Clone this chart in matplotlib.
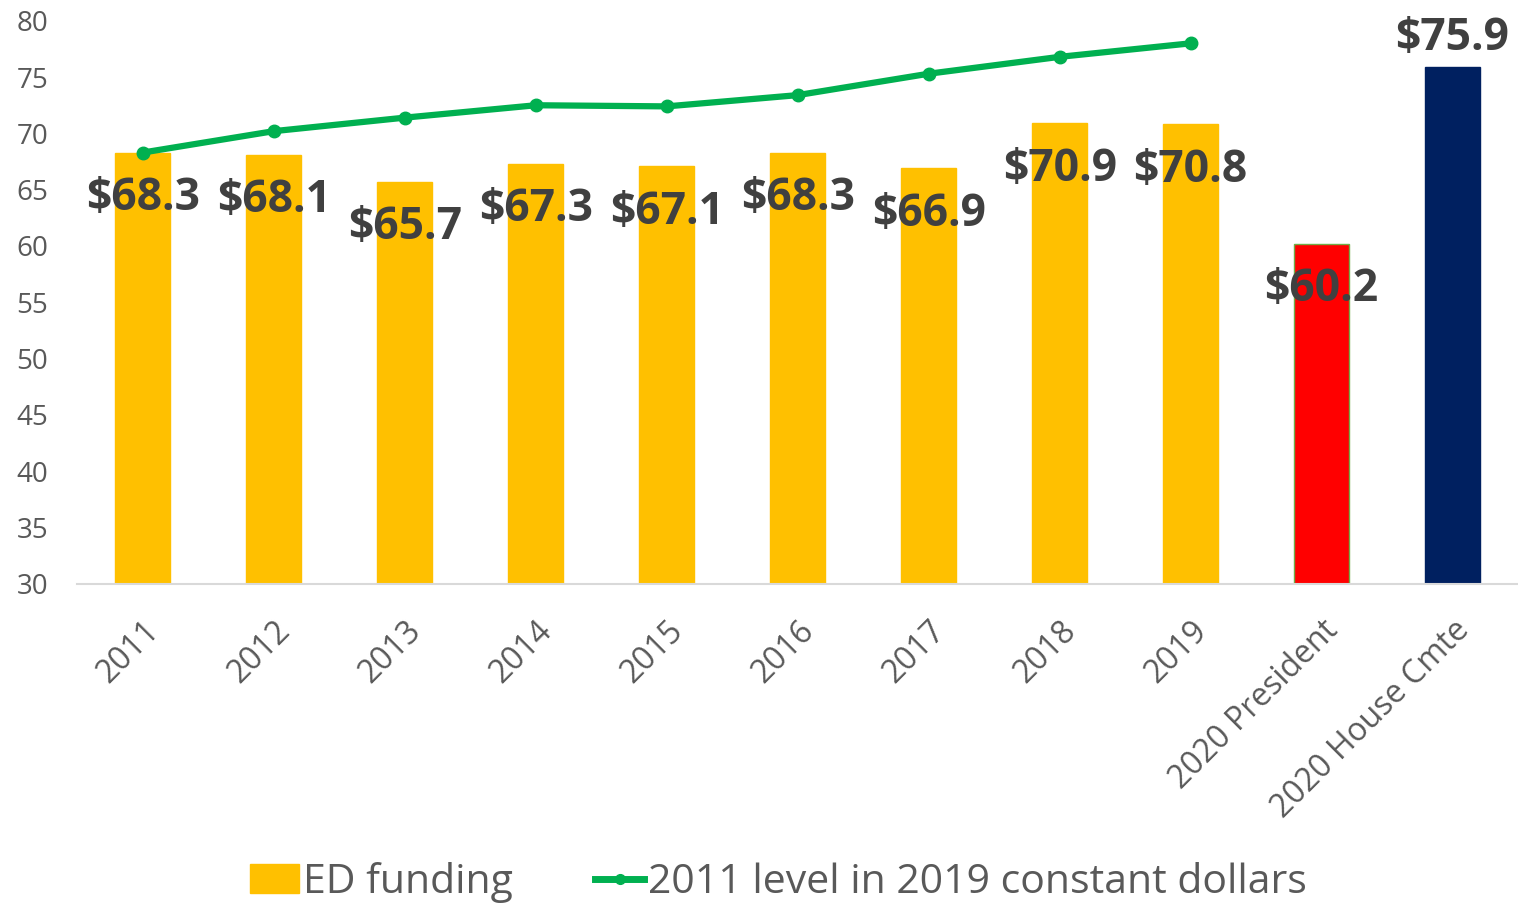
import numpy as np
import matplotlib.pyplot as plt
from matplotlib.lines import Line2D
from matplotlib.patches import Patch

plt.rcParams['font.family'] = ['Open Sans', 'DejaVu Sans']

categories = ['2011', '2012', '2013', '2014', '2015', '2016', '2017', '2018', '2019',
              '2020 President', '2020 House Cmte']
funding = [68.3, 68.1, 65.7, 67.3, 67.1, 68.3, 66.9, 70.9, 70.8, 60.2, 75.9]
constant_2011 = [68.3, 70.2, 71.4, 72.5, 72.4, 73.4, 75.3, 76.8, 78.0]
bar_colors = ['#FFC000'] * 9 + ['#FF0000', '#002060']
edge_colors = ['#FFC000'] * 9 + ['#70AD47', '#002060']

fig = plt.figure(figsize=(15.18, 9.05), dpi=100)
ax = fig.add_axes([0.051, 0.355, 0.949, 0.622])

x = np.arange(len(categories))
ax.bar(x, [v - 30 for v in funding], bottom=30, width=0.42, color=bar_colors,
       edgecolor=edge_colors, linewidth=1, zorder=2)
ax.plot(x[:len(constant_2011)], constant_2011, color='#00B050', lw=4.5,
        marker='o', markersize=9, zorder=3)

# value labels: inside near top, except the last which sits above
for i, v in enumerate(funding):
    if i == len(funding) - 1:
        ax.text(i, v + 0.5, f'${v}', ha='center', va='bottom', fontsize=32,
                fontweight='bold', color='#404040', zorder=4)
    else:
        ax.text(i, v - 4.1, f'${v}', ha='center', va='center', fontsize=32,
                fontweight='bold', color='#404040', zorder=4)

ax.set_xlim(-0.5, len(categories) - 0.5)
ax.set_ylim(30, 80)
ax.set_yticks(np.arange(30, 81, 5))
ax.tick_params(axis='y', length=0, pad=21, labelsize=20, labelcolor='#595959')
ax.tick_params(axis='x', length=0, pad=22, labelsize=23, labelcolor='#595959')
ax.set_xticks(x)
ax.set_xticklabels(categories, rotation=45, ha='right', rotation_mode='anchor')
for s in ['top', 'right', 'left']:
    ax.spines[s].set_visible(False)
ax.spines['bottom'].set_color('#D9D9D9')
ax.spines['bottom'].set_linewidth(1.5)

handles = [Patch(color='#FFC000', label='ED funding'),
           Line2D([], [], color='#00B050', lw=5, marker='o', markersize=7,
                  label='2011 level in 2019 constant dollars')]
leg = fig.legend(handles=handles, loc='center', bbox_to_anchor=(0.513, 0.025), ncol=2,
                 frameon=False, fontsize=29.5, handlelength=1.2, handletextpad=0.1,
                 columnspacing=2.0)
for t in leg.get_texts():
    t.set_color('#595959')

fig.savefig('out.png', dpi=100)
